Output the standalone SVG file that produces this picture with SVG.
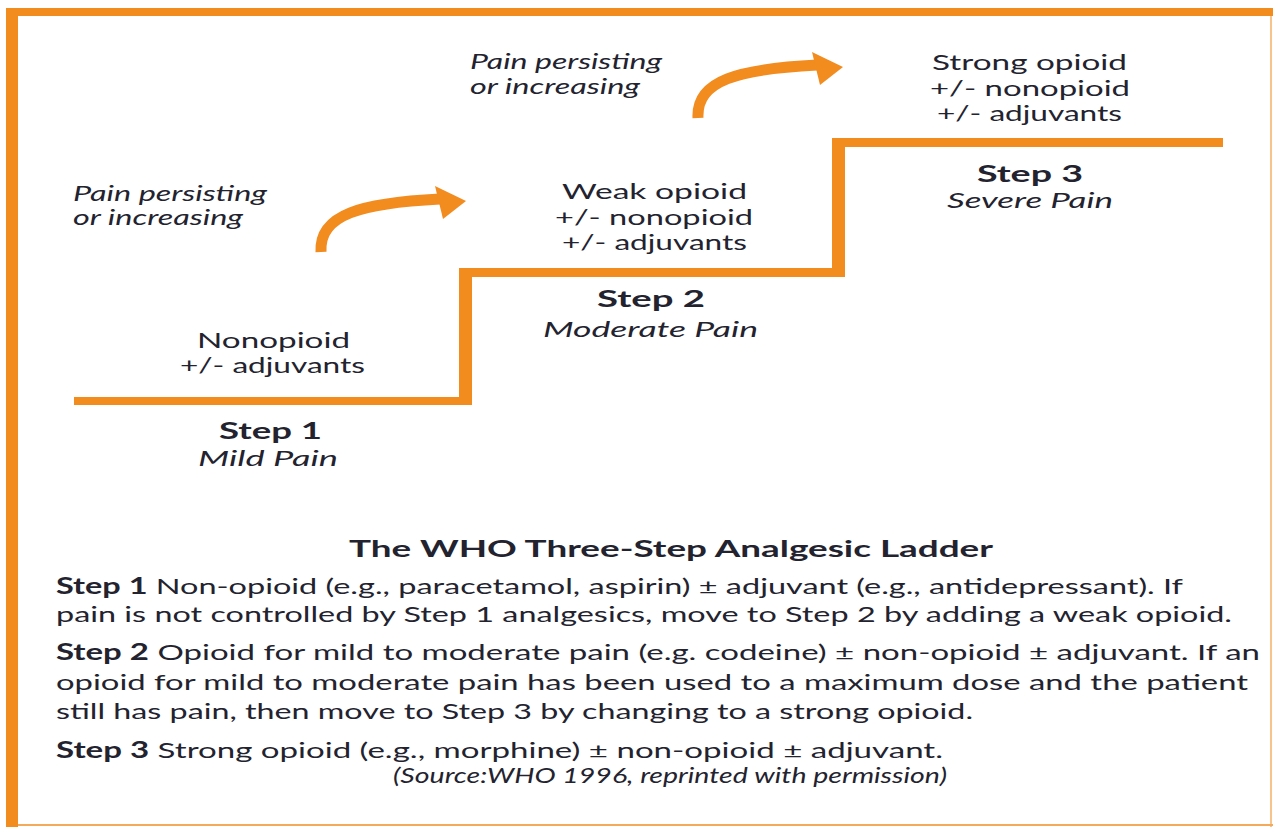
<svg xmlns="http://www.w3.org/2000/svg" width="1273" height="827" viewBox="0 0 1273 827">
  <style>
    .o { fill: #f28c1f; }
    .t { font-family: Lato, "Liberation Sans", sans-serif; fill: #23232f; font-size: 22px; }
    .it { font-style: italic; font-size: 21px; }
    .b { font-weight: bold; }
    .hd { font-weight: bold; font-size: 23px; }
    .arr { fill: none; stroke: #f28c1f; stroke-width: 11; stroke-linecap: butt; }
  </style>
  <rect width="1273" height="827" fill="#ffffff"/>
  <g id="frame">
    <rect class="o" x="6" y="8" width="1267" height="8"/>
    <rect class="o" x="6" y="8" width="12" height="819"/>
    <rect x="1270" y="16" width="2" height="811" fill="#f7c48c"/>
    <rect x="18" y="824" width="1255" height="2" fill="#f5a95a"/>
  </g>
  <g id="ladder">
    <rect class="o" x="74" y="397" width="398" height="8"/>
    <rect class="o" x="459" y="268" width="13" height="137"/>
    <rect class="o" x="459" y="268" width="386" height="9"/>
    <rect class="o" x="832" y="138" width="13" height="139"/>
    <rect class="o" x="832" y="138" width="391" height="9"/>
  </g>
  <g id="connectors">
    <g id="arrow1">
      <path class="arr" d="M321,252 C319,214 362,203 440,199"/>
      <polygon class="o" points="435,186 466,201 443,219"/>
    </g>
    <g id="arrow2">
      <path class="arr" d="M698,118 C696,80 739,69 817,65"/>
      <polygon class="o" points="812,52 843,67 820,85"/>
    </g>
  </g>
  <g id="note1">
    <text class="t it" x="73" y="201" textLength="194" lengthAdjust="spacingAndGlyphs">Pain persisting</text>
    <text class="t it" x="73" y="225" textLength="170" lengthAdjust="spacingAndGlyphs">or increasing</text>
  </g>
  <g id="note2">
    <text class="t it" x="470" y="69" textLength="192" lengthAdjust="spacingAndGlyphs">Pain persisting</text>
    <text class="t it" x="470" y="94" textLength="170" lengthAdjust="spacingAndGlyphs">or increasing</text>
  </g>
  <g id="step1">
    <text class="t" x="197" y="348" textLength="153" lengthAdjust="spacingAndGlyphs">Nonopioid</text>
    <text class="t" x="180" y="373" textLength="185" lengthAdjust="spacingAndGlyphs">+/- adjuvants</text>
    <text class="t hd" x="219" y="439" textLength="103" lengthAdjust="spacingAndGlyphs">Step 1</text>
    <text class="t it" x="198" y="466" textLength="140" lengthAdjust="spacingAndGlyphs">Mild Pain</text>
  </g>
  <g id="step2">
    <text class="t" x="562" y="199" textLength="185" lengthAdjust="spacingAndGlyphs">Weak opioid</text>
    <text class="t" x="555" y="225" textLength="198" lengthAdjust="spacingAndGlyphs">+/- nonopioid</text>
    <text class="t" x="562" y="250" textLength="185" lengthAdjust="spacingAndGlyphs">+/- adjuvants</text>
    <text class="t hd" x="597" y="307" textLength="108" lengthAdjust="spacingAndGlyphs">Step 2</text>
    <text class="t it" x="543" y="337" textLength="215" lengthAdjust="spacingAndGlyphs">Moderate Pain</text>
  </g>
  <g id="step3">
    <text class="t" x="932" y="70" textLength="195" lengthAdjust="spacingAndGlyphs">Strong opioid</text>
    <text class="t" x="930" y="96" textLength="200" lengthAdjust="spacingAndGlyphs">+/- nonopioid</text>
    <text class="t" x="937" y="121" textLength="185" lengthAdjust="spacingAndGlyphs">+/- adjuvants</text>
    <text class="t hd" x="977" y="182" textLength="106" lengthAdjust="spacingAndGlyphs">Step 3</text>
    <text class="t it" x="947" y="208" textLength="166" lengthAdjust="spacingAndGlyphs">Severe Pain</text>
  </g>
  <g id="legend">
    <text class="t b" x="349" y="557" font-size="23" textLength="644" lengthAdjust="spacingAndGlyphs">The WHO Three-Step Analgesic Ladder</text>
    <text class="t" x="56" y="594" textLength="1127" lengthAdjust="spacingAndGlyphs"><tspan class="b">Step 1</tspan> Non-opioid (e.g., paracetamol, aspirin) ± adjuvant (e.g., antidepressant). If</text>
    <text class="t" x="56" y="622" textLength="1176" lengthAdjust="spacingAndGlyphs">pain is not controlled by Step 1 analgesics, move to Step 2 by adding a weak opioid.</text>
    <text class="t" x="56" y="660" textLength="1204" lengthAdjust="spacingAndGlyphs"><tspan class="b">Step 2</tspan> Opioid for mild to moderate pain (e.g. codeine) ± non-opioid ± adjuvant. If an</text>
    <text class="t" x="56" y="690" textLength="1192" lengthAdjust="spacingAndGlyphs">opioid for mild to moderate pain has been used to a maximum dose and the patient</text>
    <text class="t" x="56" y="719" textLength="917" lengthAdjust="spacingAndGlyphs">still has pain, then move to Step 3 by changing to a strong opioid.</text>
    <text class="t" x="56" y="758" textLength="887" lengthAdjust="spacingAndGlyphs"><tspan class="b">Step 3</tspan> Strong opioid (e.g., morphine) ± non-opioid ± adjuvant.</text>
    <text class="t it" x="393" y="783" font-size="18" textLength="554" lengthAdjust="spacingAndGlyphs">(Source:WHO 1996, reprinted with permission)</text>
  </g>
</svg>
